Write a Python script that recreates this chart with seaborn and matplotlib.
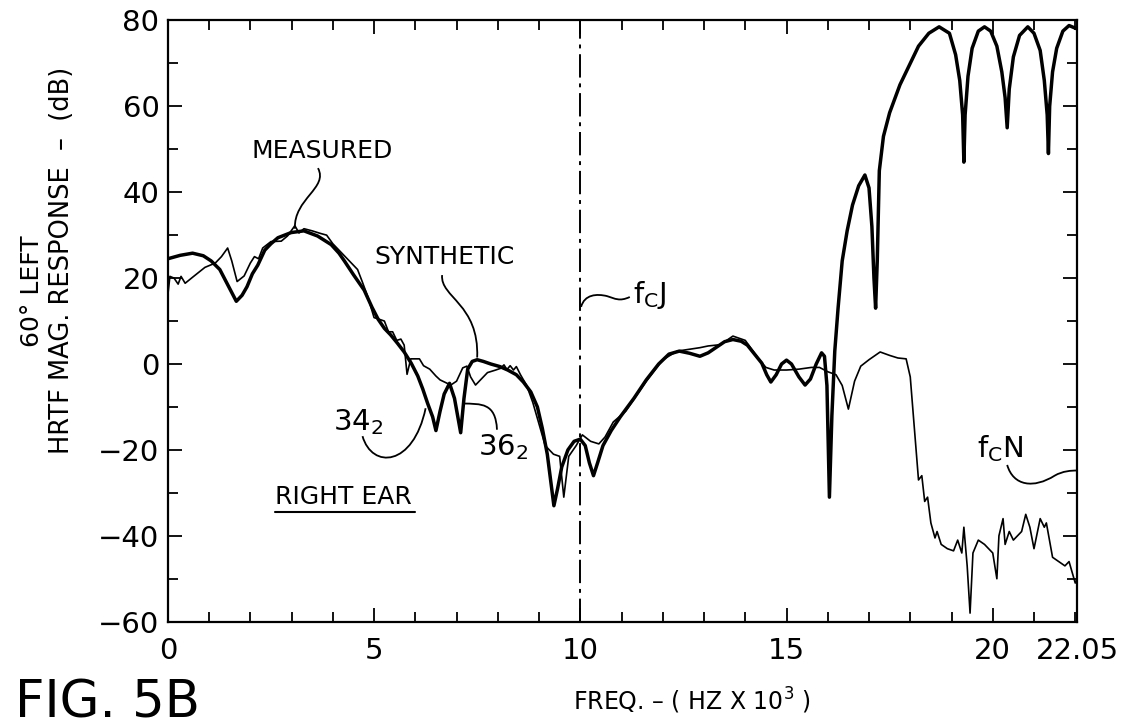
import matplotlib
matplotlib.use("Agg")
import matplotlib.pyplot as plt
from matplotlib.path import Path
from matplotlib.patches import PathPatch
from matplotlib.ticker import FixedLocator, MultipleLocator
import pandas as pd
import seaborn as sns

# synthetic response (heavy curve)
synth_freq = [0.0, 0.3, 0.6, 0.86, 1.05, 1.26, 1.45, 1.66, 1.8, 1.92, 2.05, 2.18, 2.35, 2.5, 2.67,
              2.99, 3.3, 3.63, 3.96, 4.15, 4.28, 4.5, 4.76, 4.95, 5.1, 5.25, 5.4, 5.57, 5.73, 5.9,
              6.06, 6.18, 6.3, 6.42, 6.5, 6.6, 6.7, 6.83, 6.95, 7.1, 7.18, 7.27, 7.38, 7.5, 7.65,
              7.83, 8.05, 8.24, 8.45, 8.62, 8.8, 8.96, 9.08, 9.2, 9.28, 9.36, 9.45, 9.55, 9.7, 9.85,
              10.0, 10.12, 10.22, 10.32, 10.42, 10.55, 10.75, 10.97, 11.3, 11.6, 11.9, 12.15, 12.4,
              12.65, 12.9, 13.1, 13.3, 13.5, 13.7, 13.9, 14.05, 14.25, 14.4, 14.52, 14.62, 14.75,
              14.88, 15.0, 15.12, 15.3, 15.45, 15.58, 15.72, 15.85, 15.92, 15.98, 16.04, 16.1,
              16.17, 16.25, 16.35, 16.47, 16.6, 16.75, 16.9, 17.0, 17.07, 17.12, 17.16, 17.2, 17.25,
              17.35, 17.5, 17.75, 18.0, 18.2, 18.45, 18.7, 18.95, 19.1, 19.2, 19.27, 19.3, 19.33,
              19.4, 19.5, 19.65, 19.8, 19.95, 20.1, 20.22, 20.3, 20.35, 20.4, 20.5, 20.65, 20.85,
              21.0, 21.15, 21.25, 21.32, 21.35, 21.38, 21.45, 21.55, 21.7, 21.85, 22.05]
synth_db = [24.5, 25.3, 25.8, 25.2, 24, 22, 18.5, 14.6, 16, 18, 21, 23, 26.5, 28, 29.4,
            30.6, 31, 29.8, 27.8, 25.8, 24, 20.8, 17.2, 13.2, 10.4, 8.3, 6.8, 4.8, 2.8, 0.2,
            -2.8, -5.8, -9.2, -12.3, -15.5, -11, -7, -4.5, -8, -16, -8, -1.2, 0.6, 1, 0.6,
            0, -0.6, -1.4, -2.5, -4.2, -6.5, -10, -15, -21, -27, -33, -29, -24, -20, -18,
            -17.5, -19, -23, -26, -23, -19, -15.5, -12.3, -8, -3.7, 0, 2.3, 3,
            2.5, 1.8, 2.6, 3.9, 5.2, 5.7, 5.3, 4.4, 2, 0.2, -2.5, -4.2, -2.5,
            0, 0.9, 0, -3, -4.9, -3.5, 0, 2.6, 1.8, -5, -31, -12,
            3, 13, 24, 31, 37, 41.5, 44, 41, 32, 20, 13, 24, 45,
            53, 58.5, 65, 70, 74, 77, 78.5, 77, 72, 66, 58, 47, 58,
            67, 73.5, 77.5, 78.5, 77.5, 74, 68, 62, 55, 64, 71.5, 76.5, 78.5,
            77, 73, 66, 58, 49, 60, 68, 73.5, 77.5, 78.8, 78]

# measured response (light curve)
meas_freq = [0.0, 0.05, 0.15, 0.25, 0.32, 0.42, 0.6, 0.9, 1.15, 1.3, 1.45, 1.55, 1.68, 1.85, 2.0,
             2.1, 2.2, 2.3, 2.5, 2.75, 2.9, 3.08, 3.18, 3.3, 3.5, 3.7, 3.85, 4.0, 4.15, 4.3, 4.44,
             4.6, 4.72, 4.85, 5.0, 5.1, 5.25, 5.35, 5.45, 5.55, 5.65, 5.73, 5.8, 5.89, 6.1, 6.2,
             6.35, 6.5, 6.6, 6.86, 7.0, 7.15, 7.25, 7.34, 7.46, 7.58, 7.75, 7.95, 8.07, 8.15, 8.22,
             8.3, 8.38, 8.45, 8.55, 8.7, 8.85, 9.0, 9.15, 9.35, 9.5, 9.6, 9.72, 9.9, 10.05, 10.25,
             10.45, 10.6, 10.8, 11.1, 11.6, 12.0, 12.35, 12.7, 12.9, 13.1, 13.4, 13.7, 14.0, 14.3,
             14.5, 14.7, 15.0, 15.3, 15.6, 15.8, 16.0, 16.2, 16.35, 16.5, 16.65, 16.8, 17.0, 17.27,
             17.5, 17.7, 17.9, 18.0, 18.1, 18.2, 18.28, 18.35, 18.42, 18.5, 18.6, 18.65, 18.75,
             18.9, 19.05, 19.15, 19.25, 19.3, 19.38, 19.45, 19.52, 19.65, 19.8, 20.0, 20.1, 20.15,
             20.25, 20.3, 20.4, 20.5, 20.6, 20.7, 20.8, 20.9, 21.0, 21.15, 21.25, 21.3, 21.45, 21.6,
             21.75, 21.85, 22.0, 22.05]
meas_db = [16, 20.4, 20, 18.6, 20.4, 18.8, 20.2, 22.5, 23.5, 25, 27, 24, 19.2, 20.5, 23.5,
           25, 24.5, 27, 28.5, 28.6, 29.8, 32.2, 30.5, 31.5, 31, 30.4, 30, 28, 26.5, 25, 23.6,
           22, 19, 15.6, 10.8, 10.5, 10, 7.5, 7.5, 5.5, 5.8, 4.4, -2.4, 1.2, 1.2, -0.4,
           -1.2, -2.8, -3.7, -4.9, -4, -0.9, -0.5, -3, -4.9, -3.7, -2, -1.4, -1, -0.2, -1.3,
           -0.4, -1.4, -0.6, -2.5, -5, -9, -14, -19, -21, -21.5, -31, -21.5, -19, -16.5, -18,
           -18.6, -17, -13.5, -11, -4, 1, 3, 3.5, 3.8, 4.2, 4.5, 6.5, 5.5, 1.5,
           -0.8, -1.4, -1.4, -1.2, -0.8, -0.8, -1.8, -2.5, -5, -10.5, -4, -0.5, 1, 2.8,
           2, 1.4, 1.2, -3, -15, -27, -26, -32, -31, -37, -40.5, -39, -42,
           -43, -43.5, -41, -44, -38, -47, -58, -44, -41, -42, -44, -50, -40,
           -36, -42, -39, -41, -40, -39, -35, -38, -43, -36, -38, -37, -45, -46,
           -47, -46, -51, -50]

x_ticks = [0, 5, 10, 15, 20, 22.05]
x_ticklabels = ["0", "5", "10", "15", "20", "22.05"]
y_ticks = [-60, -40, -20, 0, 20, 40, 60, 80]

synth = pd.DataFrame({"freq": synth_freq, "db": synth_db})
meas = pd.DataFrame({"freq": meas_freq, "db": meas_db})

sns.set_theme(style="ticks")
plt.rcParams["font.family"] = ["DejaVu Sans"]
plt.rcParams["mathtext.fontset"] = "dejavusans"
plt.rcParams["text.color"] = "black"

fig, ax = plt.subplots(figsize=(11.34, 7.28), dpi=100)
fig.subplots_adjust(left=0.148, right=0.950, top=0.972, bottom=0.146)

sns.lineplot(data=meas, x="freq", y="db", ax=ax, color="black", linewidth=1.2,
             estimator=None, sort=False)
sns.lineplot(data=synth, x="freq", y="db", ax=ax, color="black", linewidth=2.5,
             estimator=None, sort=False)

# cutoff marker at 10 kHz
ax.axvline(10, color="black", linewidth=1.4, linestyle=(0, (12, 3, 2, 3)))

ax.set_xlim(0, 22.05)
ax.set_ylim(-60, 80)
ax.xaxis.set_major_locator(FixedLocator(x_ticks))
ax.set_xticklabels(x_ticklabels)
ax.xaxis.set_minor_locator(FixedLocator([i for i in range(1, 23) if i % 5]))
ax.yaxis.set_major_locator(FixedLocator(y_ticks))
ax.yaxis.set_minor_locator(MultipleLocator(10))
ax.tick_params(which="both", direction="in", top=True, right=True, colors="black",
               labelcolor="black", width=1.3)
ax.tick_params(which="major", length=10, labelsize=21)
ax.tick_params(axis="y", which="major", pad=6)
ax.tick_params(axis="x", which="major", pad=11)
ax.tick_params(which="minor", length=7)
for s in ax.spines.values():
    s.set_linewidth(1.6)
    s.set_color("black")
ax.set_xlabel("")
ax.set_ylabel("")


def leader(points):
    codes = [Path.MOVETO] + [Path.CURVE4] * (len(points) - 1)
    ax.add_patch(PathPatch(Path(points, codes), facecolor="none", edgecolor="black",
                           linewidth=1.3, clip_on=False))


leader([(3.64, 45.6), (3.9, 41), (3.05, 38.5), (3.08, 31.5)])
leader([(6.65, 20.7), (6.6, 15.5), (7.55, 14), (7.5, 1.5)])
leader([(4.72, -16.8), (4.95, -24.5), (5.95, -24), (6.25, -10.3)])
leader([(7.98, -15.3), (7.95, -9), (7.6, -9.3), (7.15, -9.2)])
leader([(10.02, 13.3), (10.1, 16.2), (10.4, 16.4), (10.65, 15.8),
        (10.85, 15.2), (10.95, 14.5), (11.2, 15.6)])
leader([(20.35, -23.5), (20.5, -28.5), (21.0, -29), (21.5, -26),
        (21.7, -24.9), (21.9, -24.8), (22.05, -24.8)])

ax.text(3.74, 49.5, "MEASURED", ha="center", va="center", fontsize=18)
ax.text(6.7, 24.9, "SYNTHETIC", ha="center", va="center", fontsize=18)
ax.text(4.0, -13.5, r"34$_\mathregular{2}$", ha="left", va="center", fontsize=21)
ax.text(7.52, -19.3, r"36$_\mathregular{2}$", ha="left", va="center", fontsize=21)
ax.text(11.28, 16.0, r"f$_\mathregular{C}$J", ha="left", va="center", fontsize=21)
ax.text(19.63, -19.8, r"f$_\mathregular{C}$N", ha="left", va="center", fontsize=21)
ax.text(2.6, -31, "RIGHT EAR", ha="left", va="center", fontsize=18)
ax.plot([2.6, 6.0], [-34.5, -34.5], color="black", linewidth=1.5)

fig.text(0.028, 0.60, "60° LEFT", rotation=90, ha="center", va="center", fontsize=18)
fig.text(0.055, 0.643, "HRTF MAG. RESPONSE  –  (dB)", rotation=90, ha="center",
         va="center", fontsize=18.5)
fig.text(0.61, 0.037, r"FREQ. – ( HZ X 10$^\mathregular{3}$ )", ha="center", va="center",
         fontsize=17)
fig.text(0.013, 0.034, "FIG. 5B", ha="left", va="center", fontsize=37)

fig.savefig("out.png", dpi=100)
